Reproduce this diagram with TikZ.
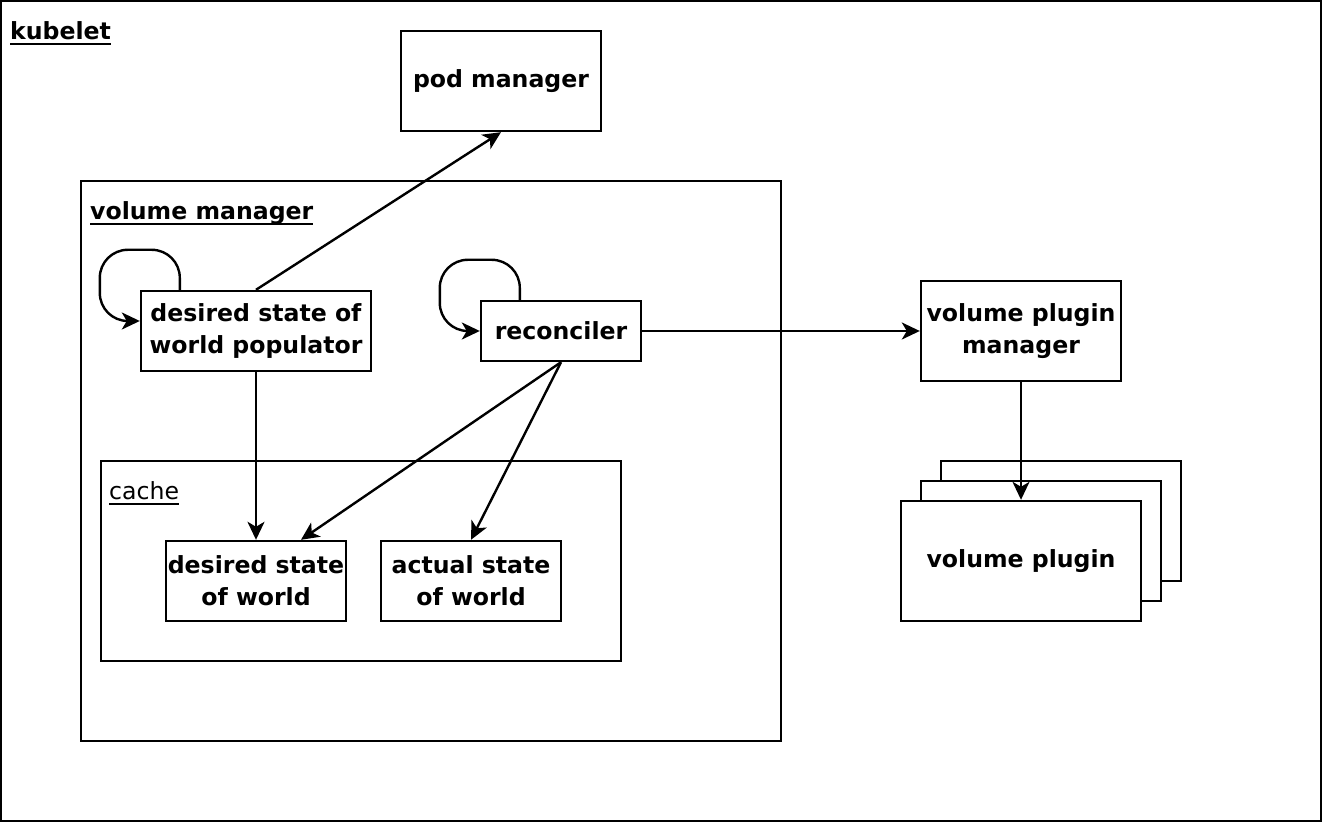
\documentclass[tikz,border=0pt]{standalone}
\usepackage{fontspec}
\setmainfont{DejaVu Sans}
\usetikzlibrary{arrows.meta}
\newcommand{\undl}[1]{\setbox0=\hbox{#1}\rlap{\rule[-2.5pt]{\wd0}{1.1pt}}\box0}

\begin{document}
\begin{tikzpicture}[x=0.5pt,y=-0.5pt,line width=1.2pt,
    box/.style={draw,fill=white,inner sep=0pt,align=center,font=\fontsize{11.8}{16}\selectfont\bfseries},
    frametitle/.style={anchor=base west,inner sep=0pt,font=\fontsize{11.8}{16}\selectfont},
    arr/.style={-{Stealth[length=9pt,width=8.5pt,inset=2.5pt]}}
]
\useasboundingbox (0,0) rectangle (1322,822);

% Kubelet frame
\draw (1,1) rectangle (1321,821);
\node[frametitle,font=\fontsize{11.8}{16}\selectfont\bfseries] (kubelet) at (9,40) {\undl{kubelet}};

% Pod manager
\node[box,minimum width=100pt,minimum height=50pt] (podmgr) at (501,81) {pod manager};

% Volume manager frame
\draw (81,181) rectangle (781,741);
\node[frametitle,font=\fontsize{11.8}{16}\selectfont\bfseries] (volmgr) at (89,220) {\undl{volume manager}};

% Populator and reconciler
\node[box,minimum width=115pt,minimum height=40pt] (pop) at (256,331) {desired state of\\world populator};
\node[box,minimum width=80pt,minimum height=30pt] (rec) at (561,331) {reconciler};

% Cache
\draw (101,461) rectangle (621,661);
\node[frametitle] (cache) at (108,500) {\undl{cache}};
\node[box,minimum width=90pt,minimum height=40pt] (dsw) at (256,581) {desired state\\of world};
\node[box,minimum width=90pt,minimum height=40pt] (asw) at (471,581) {actual state\\of world};

% Volume plugins
\node[box,minimum width=100pt,minimum height=50pt] (vpm) at (1021,331) {volume plugin\\manager};
\node[box,minimum width=120pt,minimum height=60pt] (plugC) at (1061,521) {};
\node[box,minimum width=120pt,minimum height=60pt] (plugB) at (1041,541) {};
\node[box,minimum width=120pt,minimum height=60pt] (vp) at (1021,561) {volume plugin};

% Self loops
\draw[arr,rounded corners=14pt] ([xshift=20pt]pop.north west) -- ++(0,-40) -- ++(-80,0) |- ([yshift=5pt]pop.west);
\draw[arr,rounded corners=14pt] ([xshift=20pt]rec.north west) -- ++(0,-40) -- ++(-80,0) |- (rec.west);

% Connectors
\draw[arr] (pop.north) -- (podmgr.south);
\draw[arr] (pop.south) -- (dsw.north);
\draw[arr] (rec.south) -- ([xshift=22.5pt]dsw.north);
\draw[arr] (rec.south) -- (asw.north);
\draw[arr] (rec.east) -- (vpm.west);
\draw[arr] (vpm.south) -- (vp.north);

\end{tikzpicture}
\end{document}
